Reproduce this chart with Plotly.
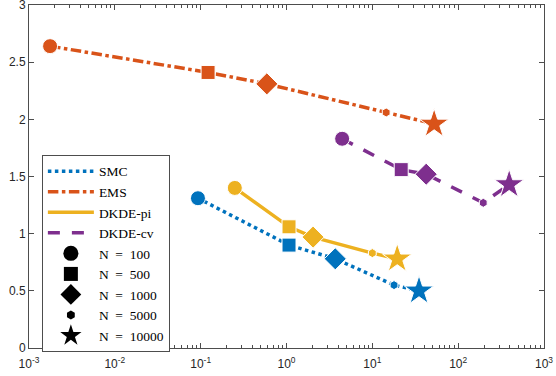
import plotly.graph_objects as go

# x: run time, y: error; one point per sample size N
n_labels = ["N\u2002=\u2002100", "N\u2002=\u2002500", "N\u2002=\u20021000",
            "N\u2002=\u20025000", "N\u2002=\u200210000"]
symbols = ["circle", "square", "diamond", "hexagon", "star"]
sizes = [15, 14, 17, 9, 22]

smc_x = [0.093, 1.07, 3.7, 17.9, 35]
smc_y = [1.31, 0.90, 0.78, 0.55, 0.50]

ems_x = [0.00176, 0.122, 0.59, 14.5, 52.5]
ems_y = [2.64, 2.41, 2.31, 2.06, 1.96]

pi_x = [0.25, 1.07, 2.04, 10.0, 19.5]
pi_y = [1.40, 1.06, 0.97, 0.83, 0.78]

cv_x = [4.45, 21.7, 42.4, 196, 393]
cv_y = [1.83, 1.56, 1.52, 1.27, 1.43]

series = [
    ("SMC", smc_x, smc_y, "#0072BD", "dot"),
    ("EMS", ems_x, ems_y, "#D95319", "dashdot"),
    ("DKDE-pi", pi_x, pi_y, "#EDB120", "solid"),
    ("DKDE-cv", cv_x, cv_y, "#7E2F8E", "12px,12px"),
]

fig = go.Figure()

for name, xs, ys, color, dash in series:
    fig.add_trace(go.Scatter(
        x=xs, y=ys, mode="lines+markers", showlegend=False,
        line=dict(color=color, width=3.5, dash=dash),
        marker=dict(symbol=symbols, size=sizes, color=color, opacity=1),
    ))

# legend entries
for name, xs, ys, color, dash in series:
    fig.add_trace(go.Scatter(
        x=[None], y=[None], mode="lines", name=name,
        line=dict(color=color, width=3.5, dash=dash),
    ))
for lab, sym, sz in zip(n_labels, symbols, sizes):
    fig.add_trace(go.Scatter(
        x=[None], y=[None], mode="markers", name=lab,
        marker=dict(symbol=sym, size=sz, color="black", opacity=1),
    ))

# invisible trace so the top axis exists
fig.add_trace(go.Scatter(x=[None], y=[None], xaxis="x2", showlegend=False))

xt = [1e-3, 1e-2, 1e-1, 1, 10, 100, 1000]
xt_text = ["10<sup>-3</sup>", "10<sup>-2</sup>", "10<sup>-1</sup>", "10<sup>0</sup>",
           "10<sup>1</sup>", "10<sup>2</sup>", "10<sup>3</sup>"]
x_minor = [m * 10.0 ** e for e in range(-3, 3) for m in range(2, 10)]
yt = [0, 0.5, 1, 1.5, 2, 2.5, 3]

axis_color = "#4d4d4d"
tick_font = dict(family="Liberation Sans", size=12, color="#262626")
common_x = dict(
    type="log", range=[-3, 3], tickvals=xt, automargin=False,
    ticks="inside", ticklen=5, tickcolor=axis_color,
    showline=True, linecolor=axis_color, linewidth=1, showgrid=False, zeroline=False,
    minor=dict(ticks="inside", ticklen=3, tickcolor=axis_color, tickvals=x_minor, showgrid=False),
)
fig.update_layout(
    xaxis=dict(**common_x, ticktext=xt_text, tickfont=tick_font, ticklabeloverflow="allow",
               ticklabelstandoff=5),
    xaxis2=dict(**common_x, overlaying="x", side="top", showticklabels=False),
)
fig.update_yaxes(
    range=[0, 3], tickvals=yt, ticktext=["0", "0.5", "1", "1.5", "2", "2.5", "3"],
    ticks="inside", ticklen=5, tickcolor=axis_color, mirror="ticks", automargin=False,
    showline=True, linecolor=axis_color, linewidth=1, showgrid=False, zeroline=False,
    tickfont=tick_font, ticklabeloverflow="allow",
)

fig.update_layout(
    width=556, height=376,
    margin=dict(l=29, r=12, t=5, b=28),
    plot_bgcolor="white", paper_bgcolor="white",
    legend=dict(
        x=0.025, y=0.563, xanchor="left", yanchor="top",
        bgcolor="white", bordercolor=axis_color, borderwidth=1,
        font=dict(family="Liberation Serif", size=13.5, color="black"),
        tracegroupgap=0, itemwidth=46,
    ),
)

fig.write_html("out.html", config={"displayModeBar": False},
               post_script="document.body.style.margin='0';")
